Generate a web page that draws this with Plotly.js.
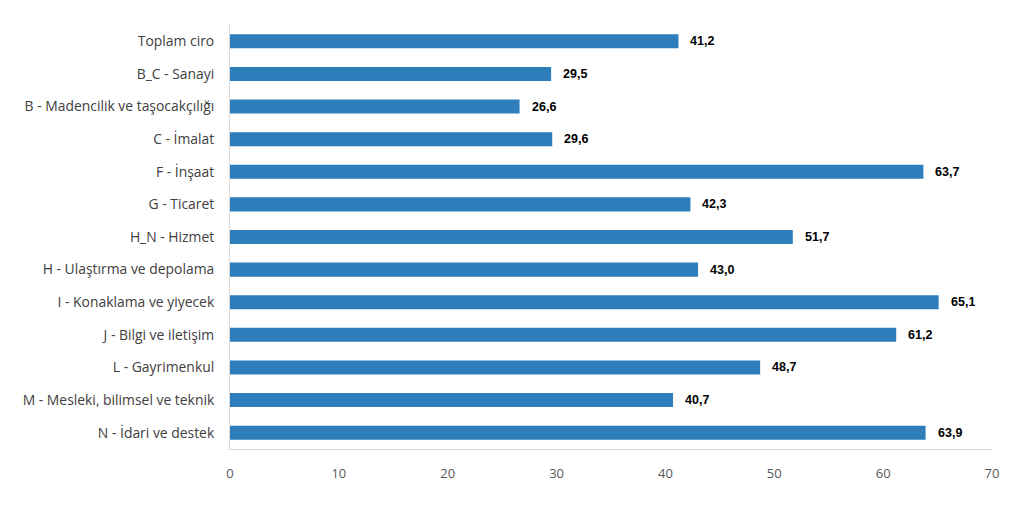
<!DOCTYPE html>
<html><head><meta charset="utf-8">
<script src="https://cdn.plot.ly/plotly-3.0.1.min.js"></script>
<style>html,body{margin:0;padding:0;background:#fff}#chart{width:1024px;height:511px}</style>
</head><body><div id="chart"></div>
<script>
const categories = ["Toplam ciro","B_C - Sanayi","B - Madencilik ve taşocakçılığı","C - İmalat","F - İnşaat","G - Ticaret","H_N - Hizmet","H - Ulaştırma ve depolama","I - Konaklama ve yiyecek","J - Bilgi ve iletişim","L - Gayrimenkul","M - Mesleki, bilimsel ve teknik","N - İdari ve destek"];
const values = [41.2,29.5,26.6,29.6,63.7,42.3,51.7,43.0,65.1,61.2,48.7,40.7,63.9];
const xTicks = [0,10,20,30,40,50,60,70];

const fmt = v => v.toFixed(1).replace('.', ',');
const trace = {
  type: 'bar', orientation: 'h', x: values, y: categories,
  width: 0.43, marker: {color: '#2e7ebb', line: {width: 0}},
  hoverinfo: 'none'
};
const annotations = values.map((v, i) => ({
  x: v, y: categories[i], xref: 'x', yref: 'y', text: '<b>' + fmt(v) + '</b>',
  showarrow: false, xanchor: 'left', xshift: 10,
  font: {family: 'Liberation Sans, Arial, sans-serif', size: 12.5, color: '#000'}
}));
const layout = {
  width: 1024, height: 511,
  margin: {l: 230, r: 32, t: 25, b: 62},
  paper_bgcolor: '#fff', plot_bgcolor: '#fff',
  showlegend: false,
  xaxis: {range: [0, 70], tickvals: xTicks, ticktext: xTicks.map(String), showgrid: false, zeroline: false,
    showline: true, linecolor: '#d9d9d9', linewidth: 1, ticks: '', ticklabelstandoff: 12,
    tickfont: {family: 'Open Sans, Noto Sans, sans-serif', size: 13, color: '#595959'}, fixedrange: true},
  yaxis: {autorange: 'reversed', showgrid: false, zeroline: false, showline: true, linecolor: '#d9d9d9', linewidth: 1,
    ticks: '', ticklabelstandoff: 12, type: 'category',
    tickfont: {family: 'Open Sans, Noto Sans, sans-serif', size: 13.9, color: '#404040'}},
  annotations: annotations
};
Plotly.newPlot('chart', [trace], layout, {displayModeBar: false, staticPlot: true});
</script></body></html>
